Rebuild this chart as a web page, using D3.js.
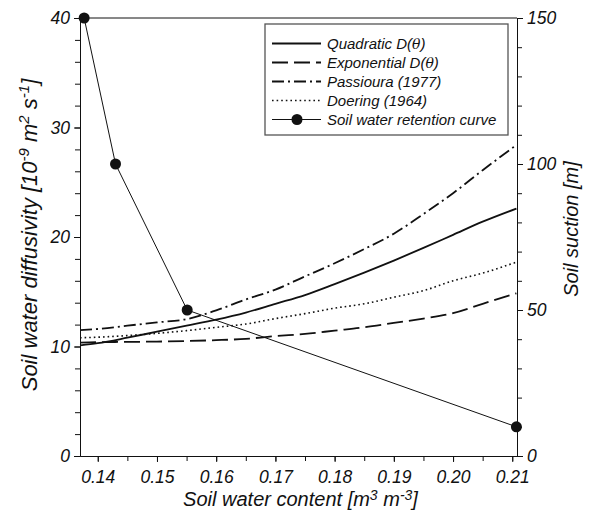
<!DOCTYPE html>
<html>
<head>
<meta charset="utf-8">
<script src="https://cdn.jsdelivr.net/npm/d3@7"></script>
<style>
  body { margin: 0; background: #fff; }
  svg { display: block; }
  text { font-family: "Liberation Sans", Arial, sans-serif; font-style: italic; fill: #111; }
  .tick text { font-size: 17.5px; }
  .axis path, .axis line { stroke: #111; stroke-width: 1; }
  .title { font-size: 20px; }
  .leg { font-size: 15px; }
</style>
</head>
<body>
<svg width="593" height="511"></svg>
<script>
// water content grid for the diffusivity curves
const theta = [0.137, 0.14, 0.145, 0.15, 0.155, 0.16, 0.165, 0.17, 0.175, 0.18, 0.185, 0.19, 0.195, 0.20, 0.205, 0.2107]
const quadratic = [10.1, 10.3, 10.8, 11.35, 11.9, 12.45, 13.1, 13.9, 14.7, 15.7, 16.75, 17.85, 19.0, 20.2, 21.4, 22.6]
const exponential = [10.35, 10.4, 10.42, 10.45, 10.5, 10.58, 10.7, 10.95, 11.15, 11.45, 11.75, 12.15, 12.55, 13.05, 13.9, 14.86]
const passioura = [11.5, 11.6, 11.9, 12.2, 12.5, 13.3, 14.3, 15.2, 16.4, 17.6, 18.9, 20.3, 22.1, 24.0, 26.1, 28.4]
const doering = [10.8, 10.85, 11.0, 11.2, 11.45, 11.75, 12.05, 12.55, 13.0, 13.5, 13.9, 14.5, 15.1, 16.0, 16.7, 17.7]

// soil water retention curve (right axis)
const retentionTheta = [0.1377, 0.143, 0.1551, 0.2107]
const retentionSuction = [150, 100, 50, 10]

const xTicks = [0.14, 0.15, 0.16, 0.17, 0.18, 0.19, 0.20, 0.21]
const leftTicks = [0, 10, 20, 30, 40]
const rightTicks = [0, 50, 100, 150]

const svg = d3.select('svg')
const m = { left: 80, right: 517, top: 18, bottom: 456 }

const x = d3.scaleLinear().domain([0.137, 0.2108]).range([m.left, m.right])
const yL = d3.scaleLinear().domain([0, 40]).range([m.bottom, m.top])
const yR = d3.scaleLinear().domain([0, 150]).range([m.bottom, m.top])

// frame top line
svg.append('line')
  .attr('x1', m.left).attr('x2', m.right).attr('y1', m.top).attr('y2', m.top)
  .attr('stroke', '#111')

// x axis
svg.append('g').attr('class', 'axis')
  .attr('transform', `translate(0,${m.bottom})`)
  .call(d3.axisBottom(x).tickValues(d3.range(0.14, 0.2105, 0.005)).tickSize(5).tickSizeOuter(0).tickFormat(''))
svg.append('g').attr('class', 'axis')
  .attr('transform', `translate(0,${m.bottom})`)
  .call(d3.axisBottom(x).tickValues(xTicks).tickSize(6).tickSizeOuter(0).tickPadding(4).tickFormat(d3.format('.2f')))
  .call(g => g.selectAll('.tick text').attr('fill', '#111').attr('dy', '0.95em'))

// left axis
svg.append('g').attr('class', 'axis')
  .attr('transform', `translate(${m.left},0)`)
  .call(d3.axisLeft(yL).tickValues(d3.range(0, 41, 2)).tickSize(5).tickSizeOuter(0).tickFormat(''))
svg.append('g').attr('class', 'axis')
  .attr('transform', `translate(${m.left},0)`)
  .call(d3.axisLeft(yL).tickValues(leftTicks).tickSize(6).tickSizeOuter(0).tickPadding(4))
  .call(g => g.selectAll('.tick text').attr('fill', '#111'))

// right axis
svg.append('g').attr('class', 'axis')
  .attr('transform', `translate(${m.right},0)`)
  .call(d3.axisRight(yR).tickValues(d3.range(0, 151, 10)).tickSize(5).tickSizeOuter(0).tickFormat(''))
svg.append('g').attr('class', 'axis')
  .attr('transform', `translate(${m.right},0)`)
  .call(d3.axisRight(yR).tickValues(rightTicks).tickSize(6).tickSizeOuter(0).tickPadding(4))
  .call(g => g.selectAll('.tick text').attr('fill', '#111'))

// diffusivity curves
const series = [
  { name: 'Quadratic', values: quadratic, dash: null, width: 1.8 },
  { name: 'Exponential', values: exponential, dash: '16,6', width: 1.8 },
  { name: 'Passioura', values: passioura, dash: '12,4,2,4', width: 1.8 },
  { name: 'Doering', values: doering, dash: '1.6,3', width: 1.6 }
]

const line = d3.line()
  .x((d, i) => x(theta[i]))
  .y(d => yL(d))
  .curve(d3.curveMonotoneX)

svg.selectAll('path.curve')
  .data(series)
  .enter()
  .append('path')
  .attr('class', 'curve')
  .attr('d', d => line(d.values))
  .attr('fill', 'none')
  .attr('stroke', '#111')
  .attr('stroke-width', d => d.width)
  .attr('stroke-dasharray', d => d.dash)

// retention curve
const retLine = d3.line()
  .x((d, i) => x(retentionTheta[i]))
  .y(d => yR(d))

svg.append('path')
  .attr('d', retLine(retentionSuction))
  .attr('fill', 'none')
  .attr('stroke', '#111')
  .attr('stroke-width', 1)

svg.selectAll('circle.ret')
  .data(retentionSuction)
  .enter()
  .append('circle')
  .attr('class', 'ret')
  .attr('cx', (d, i) => x(retentionTheta[i]))
  .attr('cy', d => yR(d))
  .attr('r', 5.5)
  .attr('fill', '#111')

// legend
const legendItems = [
  { label: 'Quadratic D(', theta: true, dash: null, width: 1.8 },
  { label: 'Exponential D(', theta: true, dash: '16,6', width: 1.8 },
  { label: 'Passioura (1977)', dash: '12,4,2,4', width: 1.8 },
  { label: 'Doering (1964)', dash: '1.6,3', width: 1.4 },
  { label: 'Soil water retention curve', dash: null, width: 1, marker: true }
]

svg.append('rect')
  .attr('x', 265).attr('y', 24).attr('width', 243).attr('height', 111)
  .attr('fill', '#fff').attr('stroke', '#555').attr('stroke-width', 1.3)

const legRows = svg.selectAll('g.legrow')
  .data(legendItems)
  .enter()
  .append('g')
  .attr('class', 'legrow')
  .attr('transform', (d, i) => `translate(0,${43.5 + i * 19})`)

legRows.append('line')
  .attr('x1', 272).attr('x2', 321)
  .attr('stroke', '#111')
  .attr('stroke-width', d => d.width)
  .attr('stroke-dasharray', d => d.dash)

legRows.filter(d => d.marker)
  .append('circle')
  .attr('cx', 297).attr('r', 5.5).attr('fill', '#111')

const legText = legRows.append('text')
  .attr('class', 'leg')
  .attr('x', 327)
  .attr('dy', '0.36em')
legText.append('tspan').text(d => d.label)
legText.filter(d => d.theta).append('tspan')
  .style('font-family', '"DejaVu Serif", serif')
  .style('font-size', '14px')
  .text('θ')
legText.filter(d => d.theta).append('tspan').text(')')

// axis titles
const xt = svg.append('text').attr('class', 'title')
  .attr('x', (m.left + m.right) / 2 + 2).attr('y', 506).attr('text-anchor', 'middle')
xt.append('tspan').text('Soil water content [m')
xt.append('tspan').attr('dy', -6).style('font-size', '14px').text('3')
xt.append('tspan').attr('dy', 6).text(' m')
xt.append('tspan').attr('dy', -6).style('font-size', '14px').text('-3')
xt.append('tspan').attr('dy', 6).text(']')

const yt = svg.append('text').attr('class', 'title')
  .style('font-size', '22px')
  .attr('transform', 'translate(37,235) rotate(-90)').attr('text-anchor', 'middle')
yt.append('tspan').text('Soil water diffusivity [10')
yt.append('tspan').attr('dy', -8).style('font-size', '15px').text('-9')
yt.append('tspan').attr('dy', 8).text(' m')
yt.append('tspan').attr('dy', -8).style('font-size', '15px').text('2')
yt.append('tspan').attr('dy', 8).text(' s')
yt.append('tspan').attr('dy', -8).style('font-size', '15px').text('-1')
yt.append('tspan').attr('dy', 8).text(']')

svg.append('text').attr('class', 'title')
  .attr('transform', 'translate(578,229) rotate(-90)').attr('text-anchor', 'middle')
  .text('Soil suction [m]')
</script>
</body>
</html>
